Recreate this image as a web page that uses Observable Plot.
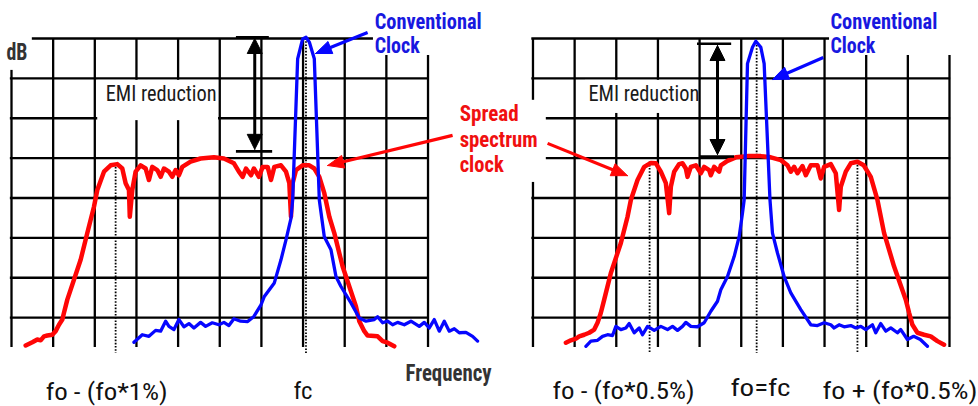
<!DOCTYPE html>
<html><head><meta charset="utf-8">
<script src="https://cdn.jsdelivr.net/npm/d3@7"></script>
<script src="https://cdn.jsdelivr.net/npm/@observablehq/plot@0.6"></script>
<style>html,body{margin:0;padding:0;background:#fff;}#chart{width:978px;height:406px;overflow:hidden;}</style>
</head><body><div id="chart"></div>
<script>
// ---------------- data ----------------
// frequency position in grid divisions (0..10 per panel), level in dB (0 = top line, 10 dB / division)
const panels = ["fo ± 1%", "fo ± 0.5%"];
const gridFreq = [0, 1, 2, 3, 4, 5, 6, 7, 8, 9, 10];
const gridDb = [0, -10, -20, -30, -40, -50, -60, -70];
const dbFloor = -77.5;

const spreadLeft = [[0.34,-77.0],[0.50,-76.2],[0.62,-75.5],[0.70,-75.7],[0.78,-74.7],[0.86,-74.5],[0.98,-74.3],[1.06,-73.4],[1.14,-71.8],[1.22,-70.5],[1.26,-68.8],[1.34,-65.5],[1.66,-55.5],[1.82,-48.8],[1.98,-42.2],[2.06,-38.0],[2.22,-33.4],[2.38,-31.8],[2.54,-31.5],[2.66,-32.6],[2.74,-36.3],[2.82,-38.0],[2.84,-44.7],[2.90,-38.0],[2.98,-33.4],[3.10,-31.8],[3.22,-32.6],[3.30,-35.5],[3.38,-32.2],[3.50,-33.0],[3.58,-34.7],[3.66,-32.6],[3.78,-33.4],[3.86,-34.7],[3.94,-33.0],[4.02,-34.3],[4.10,-32.2],[4.30,-30.9],[4.54,-30.1],[4.86,-29.8],[5.10,-30.1],[5.34,-31.3],[5.46,-33.4],[5.55,-34.7],[5.63,-32.6],[5.75,-34.3],[5.82,-32.6],[5.94,-34.7],[6.03,-32.2],[6.15,-32.2],[6.23,-35.5],[6.31,-32.2],[6.47,-31.8],[6.59,-33.4],[6.67,-36.3],[6.71,-44.7],[6.75,-36.3],[6.83,-33.0],[6.99,-31.8],[7.15,-31.8],[7.27,-32.6],[7.39,-34.7],[7.51,-38.8],[7.63,-44.7],[7.75,-48.8],[7.95,-57.2],[8.27,-67.2],[8.35,-70.9],[8.47,-73.4],[8.55,-74.5],[8.79,-74.7],[8.91,-75.9],[9.03,-76.3],[9.19,-77.2]];

const conventionalLeft = [[2.94,-76.2],[3.14,-74.3],[3.30,-74.7],[3.46,-73.2],[3.58,-73.4],[3.70,-70.9],[3.78,-72.2],[3.90,-73.0],[4.02,-70.5],[4.14,-72.3],[4.26,-71.5],[4.38,-72.6],[4.54,-71.2],[4.66,-72.2],[4.82,-71.3],[4.98,-71.8],[5.10,-71.2],[5.22,-72.0],[5.34,-70.3],[5.50,-70.9],[5.67,-71.0],[5.82,-69.7],[5.99,-66.8],[6.07,-64.7],[6.31,-61.3],[6.47,-55.5],[6.59,-50.5],[6.71,-45.1],[6.75,-40.5],[6.87,-5.1],[6.99,-0.1],[7.07,0.3],[7.15,-0.9],[7.27,-5.1],[7.39,-40.5],[7.51,-49.7],[7.67,-53.0],[7.79,-59.7],[7.91,-62.2],[8.15,-66.3],[8.35,-70.1],[8.51,-70.9],[8.71,-70.5],[8.79,-69.8],[8.91,-71.3],[9.03,-70.9],[9.15,-71.8],[9.27,-71.2],[9.43,-71.8],[9.59,-70.9],[9.79,-72.2],[9.91,-71.2],[10.03,-72.6],[10.15,-70.5],[10.27,-73.4],[10.39,-70.9],[10.51,-73.4],[10.63,-72.8],[10.75,-73.8],[10.91,-73.7],[11.07,-74.7],[11.19,-75.9]];

const spreadRight = [[0.79,-76.3],[0.91,-75.7],[1.03,-75.3],[1.11,-74.7],[1.23,-74.3],[1.35,-73.8],[1.47,-73.0],[1.55,-71.3],[1.63,-68.8],[1.71,-65.5],[1.87,-58.8],[2.11,-51.3],[2.27,-44.7],[2.35,-40.5],[2.51,-35.5],[2.67,-32.2],[2.83,-31.2],[2.95,-31.3],[3.07,-33.4],[3.19,-36.3],[3.27,-43.8],[3.31,-37.2],[3.39,-33.4],[3.51,-31.5],[3.59,-31.3],[3.67,-32.6],[3.71,-34.7],[3.79,-32.2],[3.91,-31.8],[4.03,-33.8],[4.11,-32.2],[4.23,-33.0],[4.27,-34.3],[4.35,-32.2],[4.47,-33.4],[4.51,-31.8],[4.67,-30.7],[4.87,-29.8],[5.15,-29.5],[5.47,-29.5],[5.71,-29.8],[5.95,-30.5],[6.11,-31.8],[6.19,-33.4],[6.27,-32.2],[6.35,-33.8],[6.47,-32.0],[6.55,-34.3],[6.67,-31.8],[6.83,-31.8],[6.91,-35.1],[6.99,-32.2],[7.15,-31.5],[7.27,-33.8],[7.35,-43.0],[7.39,-37.2],[7.51,-33.4],[7.63,-31.3],[7.79,-30.9],[7.94,-31.8],[8.11,-34.7],[8.27,-40.5],[8.43,-48.8],[8.67,-57.2],[8.95,-65.5],[9.03,-68.8],[9.11,-71.8],[9.23,-73.8],[9.39,-74.3],[9.55,-74.7],[9.71,-75.9],[9.87,-76.8]];

const conventionalRight = [[1.27,-77.2],[1.39,-75.9],[1.55,-75.7],[1.67,-74.7],[1.79,-74.3],[1.91,-74.5],[1.99,-72.2],[2.11,-73.0],[2.23,-72.6],[2.31,-71.5],[2.43,-73.8],[2.55,-72.6],[2.63,-74.3],[2.75,-72.2],[2.91,-73.2],[3.07,-72.2],[3.23,-73.0],[3.35,-72.2],[3.47,-73.2],[3.59,-72.2],[3.67,-71.2],[3.79,-72.2],[3.95,-72.3],[4.11,-71.3],[4.27,-68.4],[4.43,-65.9],[4.51,-63.0],[4.67,-59.7],[4.83,-54.7],[4.95,-49.7],[5.03,-43.8],[5.07,-40.5],[5.15,-6.3],[5.27,-2.2],[5.35,-0.7],[5.47,-2.2],[5.55,-6.3],[5.69,-40.5],[5.75,-48.8],[5.87,-53.8],[6.03,-59.7],[6.19,-63.8],[6.43,-68.0],[6.67,-71.8],[6.83,-72.0],[6.99,-71.3],[7.15,-71.8],[7.23,-72.6],[7.35,-71.8],[7.47,-72.3],[7.63,-72.0],[7.75,-72.6],[7.87,-72.2],[7.99,-73.0],[8.15,-71.8],[8.23,-73.8],[8.35,-71.5],[8.47,-73.4],[8.59,-72.6],[8.75,-73.8],[8.83,-73.0],[8.99,-75.5],[9.14,-74.7],[9.30,-75.5],[9.47,-77.2]];

// dotted frequency markers: [panel, freq, top dB]
const markerFreq = [[0, 2.5, -31.5], [0, 7.07, 0], [1, 2.80, -31], [1, 5.37, -1.75], [1, 7.79, -31]];

// text labels
const labels = [
  {panel:0, f:-0.12, db:-5.5,  text:"dB",             kind:"axis"},
  {panel:0, f:9.46,  db:-86.0, text:"Frequency",      kind:"axis"},
  {panel:0, f:2.26,  db:-15.8, text:"EMI reduction",  kind:"note"},
  {panel:1, f:1.33,  db:-15.8, text:"EMI reduction",  kind:"note"},
  {panel:0, f:8.72,  db:2.5,   text:"Conventional",   kind:"conv"},
  {panel:0, f:8.72,  db:-3.76, text:"Clock",          kind:"conv"},
  {panel:1, f:7.14,  db:2.5,   text:"Conventional",   kind:"conv"},
  {panel:1, f:7.14,  db:-3.76, text:"Clock",          kind:"conv"},
  {panel:0, f:10.76, db:-20.8, text:"Spread",         kind:"ssc"},
  {panel:0, f:10.76, db:-27.1, text:"spectrum",       kind:"ssc"},
  {panel:0, f:10.76, db:-33.4, text:"clock",          kind:"ssc"},
  {panel:0, f:0.82,  db:-90.6, text:"fo - (fo*1%)",   kind:"tick"},
  {panel:0, f:6.77,  db:-90.4, text:"fc",             kind:"tick"},
  {panel:1, f:0.47,  db:-90.3, text:"fo - (fo*0.5%)", kind:"tick"},
  {panel:1, f:4.74,  db:-89.6, text:"fo=fc",          kind:"tick"},
  {panel:1, f:6.95,  db:-90.3, text:"fo + (fo*0.5%)", kind:"tick"}
];

// ---------------- layout / style ----------------
const W = 978, H = 406;
const M = {top: 38, right: 29, bottom: 59, left: 11};
const panelShift = [0, 12.52];
const xDomain = [0, 22.52], yDomain = [dbFloor, 0];
const sx = d3.scaleLinear(xDomain, [M.left, W - M.right]);
const sy = d3.scaleLinear(yDomain, [H - M.bottom, M.top]);
const gx = (p, f) => f + panelShift[p];

const BLUE = "#0606ff", RED = "#ff0606";
const kindStyle = {
  axis: {fill: "#333", fontSize: 23, fontWeight: "bold"},
  note: {fill: "#1a1a1a", fontSize: 22, fontWeight: "normal"},
  conv: {fill: "#1818e0", fontSize: 22, fontWeight: "bold"},
  ssc:  {fill: "#f01010", fontSize: 22, fontWeight: "bold"},
  tick: {fill: "#111", fontSize: 23, fontWeight: "normal"}
};
const labelWidth = {"dB":21, "Frequency":86, "EMI reduction":111, "Conventional":107, "Clock":45,
  "Spread":59, "spectrum":78, "clock":44, "fo - (fo*1%)":122, "fc":19, "fo - (fo*0.5%)":142,
  "fo=fc":60, "fo + (fo*0.5%)":155};

// white boxes behind labels (grid gaps)
const boxes = [
  {panel:0, f1:-0.3, f2:0.5,   d1:4,     d2:-8.0},
  {panel:0, f1:2.07, f2:4.97,  d1:-10.5, d2:-20.6},
  {panel:0, f1:8.69, f2:10.5,  d1:4,     d2:-4.26},
  {panel:1, f1:-0.45,f2:0.32,  d1:-15.5, d2:-36.1},
  {panel:1, f1:1.26, f2:3.97,  d1:-10.5, d2:-18.8},
  {panel:1, f1:7.12, f2:10.65, d1:4,     d2:-4.26}
];
// EMI reduction double arrows
const emi = [
  {panel:0, f:5.84, top:0,     bottom:-27.8, barTop:0.33,  barBottom:-28.3, t1:5.40, t2:6.19, b1:5.40, b2:6.27},
  {panel:1, f:4.43, top:-1.76, bottom:-29.1, barTop:-1.33, barBottom:-29.6, t1:3.95, t2:4.77, b1:4.02, b2:4.84}
];
// callout arrows
const callouts = [
  {panel:0, color:BLUE, from:[8.55, 1.5],    to:[7.30, -3.76]},
  {panel:1, color:BLUE, from:[6.97, -4.77],  to:[5.75, -10.3]},
  {panel:0, color:RED,  from:[10.59, -24.3], to:[7.59, -31.85]},
  {panel:1, color:RED,  from:[0.35, -26.3],  to:[2.27, -34.4]}
];

function head(panel, tip, from, len, half) {
  const tx = sx(gx(panel, tip[0])), ty = sy(tip[1]);
  const fx = sx(gx(panel, from[0])), fy = sy(from[1]);
  const d = Math.hypot(tx - fx, ty - fy), ux = (tx - fx) / d, uy = (ty - fy) / d;
  const bx = tx - ux * len, by = ty - uy * len;
  const pts = [[tx, ty], [bx - uy * half, by + ux * half], [bx + uy * half, by - ux * half], [tx, ty]];
  return {poly: pts.map(([a, b]) => ({x: sx.invert(a), y: sy.invert(b)})),
          base: [sx.invert(bx + ux * 2), sy.invert(by + uy * 2)]};
}

// ---------------- marks ----------------
const vGrid = panels.flatMap((_, p) => gridFreq.map(f => ({x: gx(p, f)})));
const hGrid = panels.flatMap((_, p) => gridDb.map(d => ({y: d, x1: gx(p, 0), x2: gx(p, 10)})));

const marks = [
  Plot.ruleX(vGrid, {x: "x", y1: 0, y2: dbFloor, stroke: "#000", strokeWidth: 2.3}),
  Plot.ruleY(hGrid, {y: "y", x1: "x1", x2: "x2", stroke: "#000", strokeWidth: 2.3, strokeLinecap: "square"}),
  Plot.rect(boxes, {x1: d => gx(d.panel, d.f1), x2: d => gx(d.panel, d.f2), y1: "d1", y2: "d2", fill: "white"}),
  Plot.ruleX(markerFreq, {x: d => gx(d[0], d[1]), y1: d => d[2], y2: -79, stroke: "#000", strokeWidth: 1.8, strokeDasharray: "1.6,1.6"}),
  Plot.line(spreadLeft, {x: d => gx(0, d[0]), y: d => d[1], stroke: RED, strokeWidth: 4.5, strokeLinejoin: "round", strokeLinecap: "round"}),
  Plot.line(spreadRight, {x: d => gx(1, d[0]), y: d => d[1], stroke: RED, strokeWidth: 4.5, strokeLinejoin: "round", strokeLinecap: "round"}),
  Plot.line(conventionalLeft, {x: d => gx(0, d[0]), y: d => d[1], stroke: BLUE, strokeWidth: 3.3, strokeLinejoin: "round", strokeLinecap: "round"}),
  Plot.line(conventionalRight, {x: d => gx(1, d[0]), y: d => d[1], stroke: BLUE, strokeWidth: 3.3, strokeLinejoin: "round", strokeLinecap: "round"})
];

emi.forEach(e => {
  const hTop = head(e.panel, [e.f, e.top], [e.f, e.bottom], 15, 7.5);
  const hBot = head(e.panel, [e.f, e.bottom], [e.f, e.top], 15, 7.5);
  marks.push(
    Plot.ruleY([e], {y: "barTop", x1: d => gx(d.panel, d.t1), x2: d => gx(d.panel, d.t2), stroke: "#000", strokeWidth: 2.6}),
    Plot.ruleY([e], {y: "barBottom", x1: d => gx(d.panel, d.b1), x2: d => gx(d.panel, d.b2), stroke: "#000", strokeWidth: 2.6}),
    Plot.ruleX([e], {x: d => gx(d.panel, d.f), y1: hTop.base[1], y2: hBot.base[1], stroke: "#000", strokeWidth: 3}),
    Plot.line(hTop.poly, {x: "x", y: "y", fill: "#000", stroke: "#000", strokeWidth: 1}),
    Plot.line(hBot.poly, {x: "x", y: "y", fill: "#000", stroke: "#000", strokeWidth: 1})
  );
});

callouts.forEach(c => {
  const h = head(c.panel, c.to, c.from, 16, 6.5);
  marks.push(
    Plot.link([c], {x1: d => gx(d.panel, d.from[0]), y1: d => d.from[1], x2: h.base[0], y2: h.base[1], stroke: c.color, strokeWidth: 3.2}),
    Plot.line(h.poly, {x: "x", y: "y", fill: c.color, stroke: c.color, strokeWidth: 1})
  );
});

Object.entries(kindStyle).forEach(([kind, st]) => {
  marks.push(Plot.text(labels.filter(l => l.kind === kind), {
    x: d => gx(d.panel, d.f), y: "db", text: "text",
    textAnchor: "start", lineAnchor: "bottom",
    fill: st.fill, fontSize: st.fontSize, fontWeight: st.fontWeight,
    fontFamily: "'Liberation Sans Narrow', 'Arial Narrow', 'Roboto Condensed', Roboto, 'Liberation Sans', Arial, sans-serif"
  }));
});

const svg = Plot.plot({
  width: W, height: H,
  marginTop: M.top, marginRight: M.right, marginBottom: M.bottom, marginLeft: M.left,
  x: {domain: xDomain, axis: null},
  y: {domain: yDomain, axis: null},
  style: {background: "white", overflow: "visible"},
  marks
});

d3.select(svg).selectAll("text").each(function () {
  const w = labelWidth[this.textContent];
  if (w) { this.setAttribute("textLength", w); this.setAttribute("lengthAdjust", "spacingAndGlyphs"); }
});

document.getElementById("chart").appendChild(svg);
</script>
</body></html>
